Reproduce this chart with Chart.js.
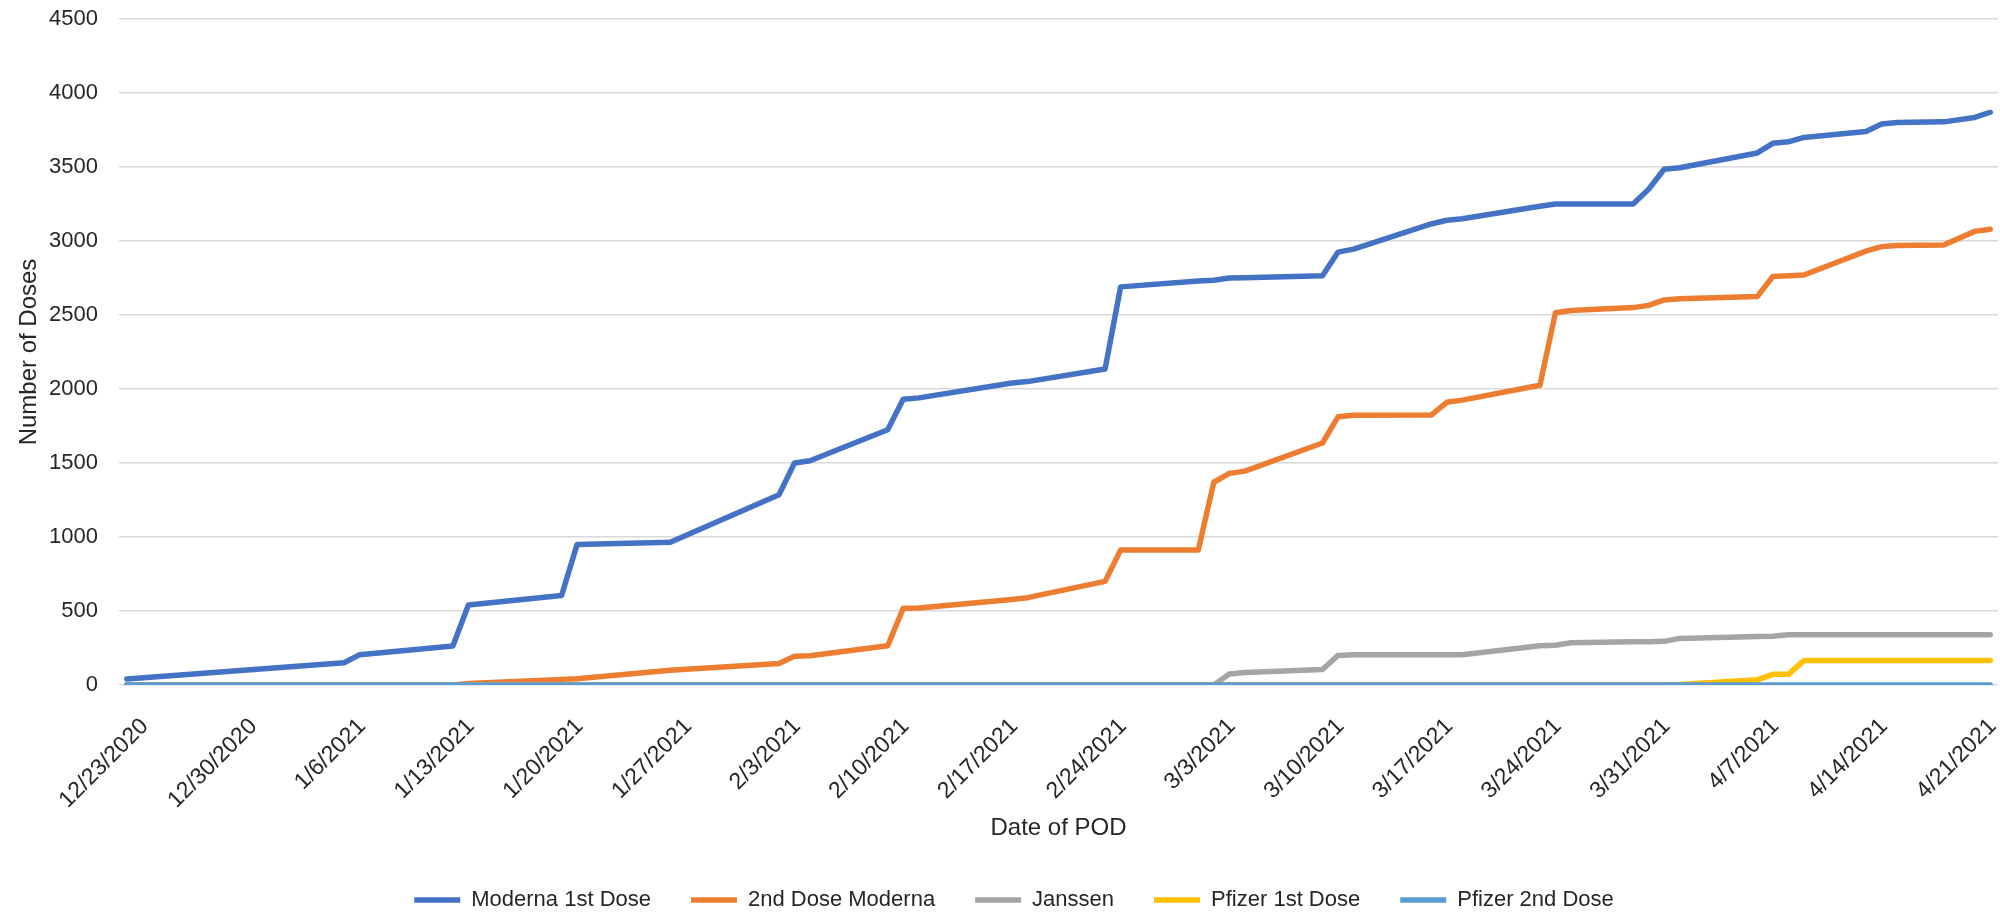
<!DOCTYPE html>
<html>
<head>
<meta charset="utf-8">
<title>Doses by Date of POD</title>
<script src="https://cdn.jsdelivr.net/npm/chart.js@4.4.0/dist/chart.umd.min.js"></script>
<style>
  html, body { margin: 0; padding: 0; background: #ffffff; }
  #wrap { width: 2000px; height: 916px; }
</style>
</head>
<body>
<div id="wrap"><canvas id="myChart" width="2000" height="916"></canvas></div>
<script>
// dates of the data points
const dates = ["12/23/2020", "1/6/2021", "1/7/2021", "1/13/2021", "1/14/2021", "1/20/2021", "1/21/2021", "1/27/2021",
  "2/3/2021", "2/4/2021", "2/5/2021", "2/10/2021", "2/11/2021", "2/12/2021", "2/18/2021", "2/19/2021",
  "2/24/2021", "2/25/2021", "3/2/2021", "3/3/2021", "3/4/2021", "3/5/2021", "3/10/2021", "3/11/2021",
  "3/12/2021", "3/17/2021", "3/18/2021", "3/19/2021", "3/24/2021", "3/25/2021", "3/26/2021", "3/30/2021",
  "3/31/2021", "4/1/2021", "4/2/2021", "4/7/2021", "4/8/2021", "4/9/2021", "4/10/2021", "4/14/2021",
  "4/15/2021", "4/16/2021", "4/19/2021", "4/21/2021", "4/22/2021"]

const moderna1 = [40, 150, 205, 263, 540, 605, 950, 965, 1285, 1500, 1515, 1725, 1930, 1940, 2040, 2050,
  2135, 2690, 2730, 2735, 2750, 2752, 2765, 2925, 2945, 3115, 3140, 3150, 3235, 3250, 3250, 3250,
  3350, 3485, 3495, 3595, 3660, 3670, 3700, 3740, 3790, 3800, 3805, 3835, 3870]
const moderna2 = [0, 0, 0, 0, 10, 38, 42, 100, 145, 195, 197, 265, 518, 520, 578, 590,
  700, 912, 912, 1370, 1430, 1445, 1635, 1812, 1822, 1824, 1910, 1925, 2025, 2515, 2530, 2550,
  2565, 2602, 2610, 2625, 2760, 2765, 2770, 2932, 2962, 2970, 2973, 3065, 3080]
const janssen = [0, 0, 0, 0, 0, 0, 0, 0, 0, 0, 0, 0, 0, 0, 0, 0,
  0, 0, 0, 0, 75, 85, 105, 200, 205, 205, 205, 205, 265, 268, 285, 292,
  293, 295, 315, 328, 330, 340, 340, 340, 340, 340, 340, 340, 340]
const pfizer1 = [0, 0, 0, 0, 0, 0, 0, 0, 0, 0, 0, 0, 0, 0, 0, 0,
  0, 0, 0, 0, 0, 0, 0, 0, 0, 0, 0, 0, 0, 0, 0, 0,
  0, 0, 3, 35, 72, 72, 165, 165, 165, 165, 165, 165, 165]
const pfizer2 = [0, 0, 0, 0, 0, 0, 0, 0, 0, 0, 0, 0, 0, 0, 0, 0,
  0, 0, 0, 0, 0, 0, 0, 0, 0, 0, 0, 0, 0, 0, 0, 0,
  0, 0, 0, 0, 0, 0, 0, 0, 0, 0, 0, 0, 0]

const seriesNames = ["Moderna 1st Dose", "2nd Dose Moderna", "Janssen", "Pfizer 1st Dose", "Pfizer 2nd Dose"]
const seriesColors = ["#4472C4", "#ED7D31", "#A5A5A5", "#FFC000", "#5B9BD5"]

const tickLabels = ["12/23/2020", "12/30/2020", "1/6/2021", "1/13/2021", "1/20/2021", "1/27/2021", "2/3/2021",
  "2/10/2021", "2/17/2021", "2/24/2021", "3/3/2021", "3/10/2021", "3/17/2021", "3/24/2021", "3/31/2021",
  "4/7/2021", "4/14/2021", "4/21/2021"]

const textColor = "#262626"
const family = "'Liberation Sans', Arial, sans-serif"
const tickFont = { family: family, size: 22 }
const dateFont = { family: family, size: 23 }
const titleFont = { family: family, size: 24 }

// days since the first date, so the axis works like a date axis
const toDay = (s) => {
  const [m, d, y] = s.split("/").map(Number)
  return (Date.UTC(y, m - 1, d) - Date.UTC(2020, 11, 23)) / 86400000
}

const makeSeries = (values) => dates.map((d, i) => ({ x: toDay(d), y: values[i] }))

const allValues = [moderna1, moderna2, janssen, pfizer1, pfizer2]

const datasets = allValues.map((vals, i) => ({
  label: seriesNames[i],
  data: makeSeries(vals),
  borderColor: seriesColors[i],
  backgroundColor: seriesColors[i],
  borderWidth: 5.5,
  borderCapStyle: "round",
  borderJoinStyle: "round",
  pointRadius: 0,
  pointStyle: "line",
  tension: 0,
  order: allValues.length - 1 - i
}))

// the legend sits a little right of centre in the original
const nudgeLegend = {
  id: "nudgeLegend",
  afterLayout(chart) {
    chart.legend.left += 15
    chart.legend.right += 15
  }
}

const ctx = document.getElementById("myChart").getContext("2d")
const myChart = new Chart(ctx, {
  type: "line",
  data: { datasets: datasets },
  plugins: [nudgeLegend],
  options: {
    responsive: false,
    animation: false,
    devicePixelRatio: 1,
    layout: { padding: { top: 19, right: 2, bottom: -5, left: 0 } },
    plugins: {
      legend: {
        position: "bottom",
        labels: {
          usePointStyle: true,
          pointStyleWidth: 46,
          boxHeight: 5,
          padding: 40,
          color: textColor,
          font: tickFont,
          sort: (a, b) => a.datasetIndex - b.datasetIndex
        }
      },
      tooltip: { enabled: false }
    },
    scales: {
      x: {
        type: "linear",
        min: -0.5,
        max: 120.5,
        grid: { display: false },
        border: { display: false },
        afterBuildTicks: (scale) => {
          scale.ticks = tickLabels.map(t => ({ value: toDay(t) }))
        },
        ticks: {
          autoSkip: false,
          minRotation: 45,
          maxRotation: 45,
          padding: 20,
          labelOffset: 18,
          color: textColor,
          font: dateFont,
          callback: (value, index) => tickLabels[index]
        },
        title: { display: true, text: "Date of POD", color: textColor, font: titleFont, padding: { top: 0, bottom: 6 } },
        afterFit: (scale) => {
          scale.height = 164
          scale.paddingLeft = 0
          scale.paddingRight = 0
        }
      },
      y: {
        min: 0,
        max: 4500,
        ticks: {
          stepSize: 500,
          padding: 21,
          color: textColor,
          font: tickFont,
          callback: (value) => String(value)
        },
        grid: { color: "#D9D9D9", lineWidth: 1.5, drawTicks: false },
        border: { display: false },
        title: { display: true, text: "Number of Doses", color: textColor, font: titleFont, padding: { top: 15, bottom: 0 } },
        afterFit: (scale) => {
          scale.width = 119
          scale.paddingTop = 0
          scale.paddingBottom = 0
        }
      }
    }
  }
})
</script>
</body>
</html>
